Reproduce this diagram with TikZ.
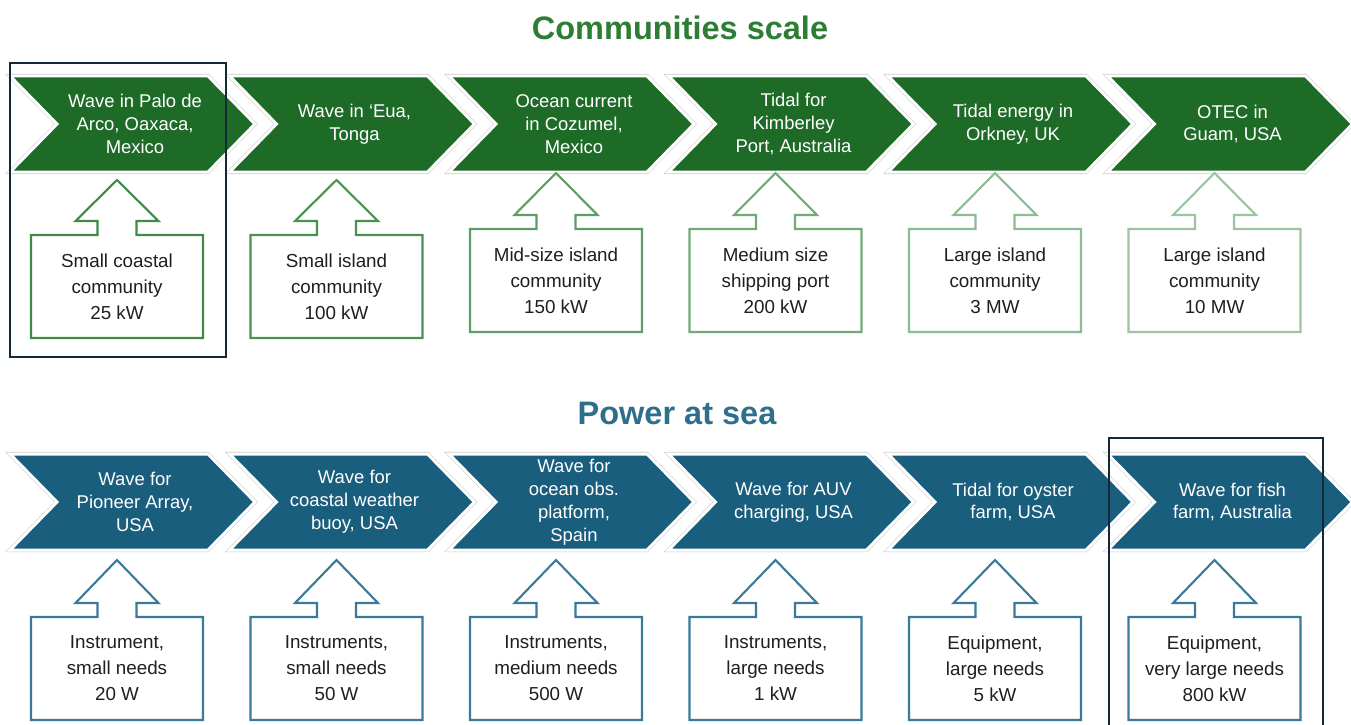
\documentclass[tikz,border=0pt]{standalone}
\usepackage{fontspec}
\setmainfont{Liberation Sans}
\usepackage{tikz}
\usetikzlibrary{calc}

\definecolor{commgreen}{HTML}{1E6B28}
\definecolor{titlegreen}{HTML}{2E7D34}
\definecolor{seablue}{HTML}{1A5E7E}
\definecolor{titleblue}{HTML}{2E6F8C}
\definecolor{seaedge}{HTML}{3A7A98}
\definecolor{framenavy}{HTML}{13293A}
\definecolor{greenA}{HTML}{3F8A47}
\definecolor{greenB}{HTML}{4A9251}
\definecolor{greenC}{HTML}{5E9E66}
\definecolor{greenD}{HTML}{72AB79}
\definecolor{greenE}{HTML}{8DBC92}
\definecolor{greenF}{HTML}{9CC4A0}

\tikzset{
	chevtext/.style={text=white, align=center, font=\fontsize{10.5}{13}\selectfont},
	needtext/.style={text=black!88, align=center, font=\fontsize{10.7}{14.8}\selectfont},
	rowtitle/.style={font=\fontsize{18.5}{22}\selectfont\bfseries},
	highlight/.style={draw=framenavy, line width=1.2pt}
}

% #1 left x, #2 top y
\newcommand{\chevpath}[2]{(#1,#2) -- ++(198,0) -- ++(47,48) -- ++(-47,48) -- ++(-198,0) -- ++(47,-48) -- cycle}
% #1 left x, #2 top y, #3 colour, #4 name, #5 text
\newcommand{\stagechev}[5]{%
	\draw[line width=2.3pt, draw=black!20, line join=miter] \chevpath{#1}{#2};
	\draw[line width=1.7pt, draw=white, fill=#3, line join=miter] \chevpath{#1}{#2};
	\node[chevtext] (#4) at (#1+125,#2+48) {#5};
}
% #1 centre x, #2 tip y, #3 box top, #4 box bottom, #5 colour, #6 name, #7 text
\newcommand{\needbox}[7]{%
	\draw[draw=#5, line width=1.2pt, fill=white] (#1,#2) -- (#1+41.5,#3-14) -- (#1+19.5,#3-14)
		-- (#1+19.5,#3) -- (#1+86,#3) -- (#1+86,#4) -- (#1-86,#4) -- (#1-86,#3)
		-- (#1-19.5,#3) -- (#1-19.5,#3-14) -- (#1-41.5,#3-14) -- cycle;
	\node[needtext] (#6) at (#1,{(#3+#4)/2}) {#7};
}

\begin{document}
\begin{tikzpicture}[x=0.02cm, y=-0.02cm]
	\fill[white] (0,0) rectangle (1351,724);
	\clip (0,0) rectangle (1351,724);

	% communities
	\node[rowtitle, text=titlegreen] (commtitle) at (680,28) {Communities scale};

	\stagechev{10}{76}{commgreen}{comm1}{Wave in Palo de\\Arco, Oaxaca,\\Mexico}
	\stagechev{229.5}{76}{commgreen}{comm2}{Wave in `Eua,\\Tonga}
	\stagechev{449}{76}{commgreen}{comm3}{Ocean current\\in Cozumel,\\Mexico}
	\stagechev{668.5}{76}{commgreen}{comm4}{Tidal for\\Kimberley\\Port, Australia}
	\stagechev{888}{76}{commgreen}{comm5}{Tidal energy in\\Orkney, UK}
	\stagechev{1107.5}{76}{commgreen}{comm6}{OTEC in\\Guam, USA}

	\needbox{117}{180}{235}{338}{greenA}{need1}{Small coastal\\community\\25 kW}
	\needbox{336.5}{180}{235}{338}{greenB}{need2}{Small island\\community\\100 kW}
	\needbox{556}{173}{229}{332}{greenC}{need3}{Mid-size island\\community\\150 kW}
	\needbox{775.5}{173}{229}{332}{greenD}{need4}{Medium size\\shipping port\\200 kW}
	\needbox{995}{173}{229}{332}{greenE}{need5}{Large island\\community\\3 MW}
	\needbox{1214.5}{173}{229}{332}{greenF}{need6}{Large island\\community\\10 MW}

	% power at sea
	\node[rowtitle, text=titleblue] (seatitle) at (677,413) {Power at sea};

	\stagechev{10}{454}{seablue}{sea1}{Wave for\\Pioneer Array,\\USA}
	\stagechev{229.5}{454}{seablue}{sea2}{Wave for\\coastal weather\\buoy, USA}
	\stagechev{449}{454}{seablue}{sea3}{Wave for\\ocean obs.\\platform,\\Spain}
	\stagechev{668.5}{454}{seablue}{sea4}{Wave for AUV\\charging, USA}
	\stagechev{888}{454}{seablue}{sea5}{Tidal for oyster\\farm, USA}
	\stagechev{1107.5}{454}{seablue}{sea6}{Wave for fish\\farm, Australia}

	\needbox{117}{560}{617}{720}{seaedge}{use1}{Instrument,\\small needs\\20 W}
	\needbox{336.5}{560}{617}{720}{seaedge}{use2}{Instruments,\\small needs\\50 W}
	\needbox{556}{560}{617}{720}{seaedge}{use3}{Instruments,\\medium needs\\500 W}
	\needbox{775.5}{560}{617}{720}{seaedge}{use4}{Instruments,\\large needs\\1 kW}
	\needbox{995}{560}{617}{720}{seaedge}{use5}{Equipment,\\large needs\\5 kW}
	\needbox{1214.5}{560}{617}{720}{seaedge}{use6}{Equipment,\\very large needs\\800 kW}

	% highlighted cases
	\draw[highlight] (10,63) rectangle (226,357);
	\draw[highlight] (1109,438) rectangle (1323,740);
\end{tikzpicture}
\end{document}
